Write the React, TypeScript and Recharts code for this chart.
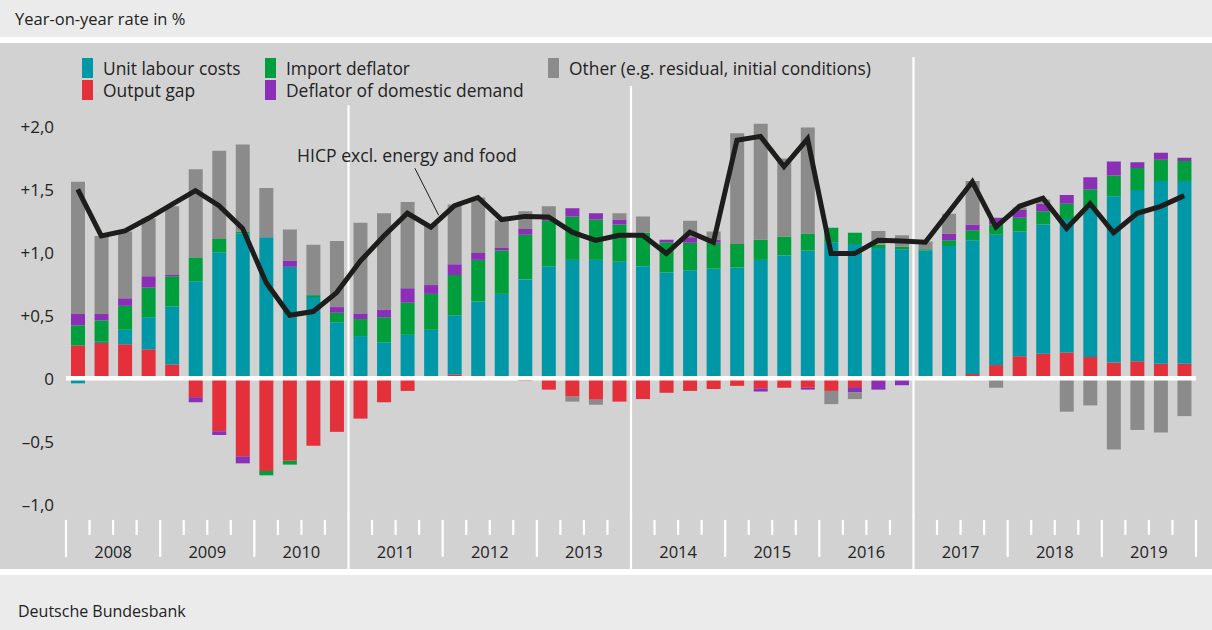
import React from 'react';
import {
  ComposedChart, Bar, Line, XAxis, YAxis, CartesianGrid, ReferenceLine, ReferenceDot, Label, Legend,
} from 'recharts';

const years = ['2008', '2009', '2010', '2011', '2012', '2013', '2014', '2015', '2016', '2017', '2018', '2019'];
const quarters = years.flatMap((y) => ['Q1', 'Q2', 'Q3', 'Q4'].map((q) => `${y}${q}`));

const outputGap = [
  0.26, 0.28, 0.27, 0.23, 0.11, -0.15, -0.42, -0.62, -0.735, -0.655, -0.535, -0.425,
  -0.32, -0.19, -0.10, 0, 0.03, 0, 0, -0.02, -0.09, -0.145, -0.17, -0.185,
  -0.165, -0.115, -0.10, -0.085, -0.06, -0.08, -0.075, -0.075, -0.10, -0.07, -0.02, 0,
  0, 0, 0.035, 0.105, 0.175, 0.195, 0.205, 0.17, 0.125, 0.135, 0.115, 0.115,
];
const unitLabourCosts = [
  -0.04, 0.01, 0.115, 0.255, 0.46, 0.77, 1.0, 1.15, 1.12, 0.885, 0.645, 0.445,
  0.335, 0.285, 0.345, 0.385, 0.47, 0.61, 0.67, 0.785, 0.89, 0.94, 0.94, 0.925,
  0.89, 0.84, 0.855, 0.87, 0.88, 0.94, 0.975, 1.015, 1.08, 1.065, 1.035, 1.025,
  1.015, 1.05, 1.06, 1.035, 0.99, 1.025, 1.06, 1.19, 1.32, 1.36, 1.45, 1.45,
];
const importDeflator = [
  0.16, 0.17, 0.19, 0.235, 0.24, 0.19, 0.105, 0.015, -0.035, -0.03, 0.015, 0.075,
  0.135, 0.20, 0.255, 0.285, 0.32, 0.33, 0.345, 0.355, 0.36, 0.345, 0.32, 0.295,
  0.265, 0.24, 0.22, 0.205, 0.185, 0.16, 0.15, 0.135, 0.115, 0.09, 0.025, 0.02,
  0.01, 0.045, 0.08, 0.08, 0.11, 0.105, 0.12, 0.14, 0.165, 0.175, 0.17, 0.16,
];
const domesticDeflator = [
  0.09, 0.05, 0.06, 0.09, 0.01, -0.04, -0.03, -0.055, 0, 0.05, 0, 0.045,
  0.045, 0.06, 0.115, 0.07, 0.085, 0.055, 0.02, 0.045, 0.02, 0.065, 0.05, 0.04,
  0, 0.02, 0.045, 0.025, 0, -0.025, 0, -0.015, 0, -0.04, -0.07, -0.055,
  0, 0.055, 0.045, 0.055, 0.06, 0.06, 0.07, 0.095, 0.11, 0.045, 0.055, 0.025,
];
const otherFactors = [
  1.05, 0.62, 0.53, 0.46, 0.545, 0.70, 0.70, 0.69, 0.39, 0.245, 0.40, 0.525,
  0.72, 0.765, 0.685, 0.48, 0.475, 0.44, 0.22, 0.14, 0.095, -0.04, -0.04, 0.05,
  0.13, 0, 0.13, 0.065, 0.88, 0.92, 0.62, 0.84, -0.105, -0.055, 0.11, 0.09,
  0.06, 0.155, 0.345, -0.075, 0.02, 0.035, -0.265, -0.215, -0.565, -0.41, -0.43, -0.30,
];
const hicpCore = [
  1.50, 1.13, 1.17, 1.27, 1.38, 1.49, 1.37, 1.19, 0.76, 0.50, 0.53, 0.68,
  0.93, 1.13, 1.31, 1.20, 1.37, 1.435, 1.26, 1.285, 1.28, 1.16, 1.095, 1.135,
  1.135, 0.99, 1.16, 1.08, 1.89, 1.92, 1.68, 1.90, 0.99, 0.99, 1.095, 1.09,
  1.08, 1.32, 1.56, 1.20, 1.365, 1.43, 1.19, 1.385, 1.155, 1.31, 1.365, 1.45,
];

const yTicks = [-1, -0.5, 0, 0.5, 1, 1.5, 2];
const quarterTicks = Array.from({ length: quarters.length + 1 }, (_, i) => i);
const separatorTicks = [12, 24, 36];
const separatorTops = [2.167, 2.32, 2.55];

const C = {
  teal: '#0098a7',
  red: '#e4303a',
  green: '#009e3d',
  purple: '#8a2fb6',
  grey: '#8b8b8b',
  line: '#1d1d1b',
  panel: '#d2d2d2',
  band: '#ebebeb',
  text: '#222222',
};

const legendItems = [
  { name: 'Unit labour costs', color: C.teal, x: 82, row: 0 },
  { name: 'Output gap', color: C.red, x: 82, row: 1 },
  { name: 'Import deflator', color: C.green, x: 265, row: 0 },
  { name: 'Deflator of domestic demand', color: C.purple, x: 265, row: 1 },
  { name: 'Other (e.g. residual, initial conditions)', color: C.grey, x: 548, row: 0 },
];

const data = quarters.map((q, i) => ({
  q,
  pos: i + 0.5,
  gap: outputGap[i],
  ulc: unitLabourCosts[i],
  imp: importDeflator[i],
  dom: domesticDeflator[i],
  oth: otherFactors[i],
  hicp: hicpCore[i],
}));

const fmtY = (v: number) => {
  if (v === 0) return '0';
  const s = Math.abs(v).toFixed(1).replace('.', ',');
  return v > 0 ? `+${s}` : `\u2013${s}`;
};

const YTick = (props: any) => {
  const { x, y, payload } = props;
  return (
    <text x={x} y={y} textAnchor="end" dominantBaseline="central" fontSize={17} fill={C.text}>
      {fmtY(payload.value)}
    </text>
  );
};

const QuarterTick = (props: any) => {
  const { x, y, payload } = props;
  const v = payload.value as number;
  const isSep = separatorTicks.includes(v);
  const isYear = v % 4 === 0;
  const label = v % 4 === 2 ? years[(v - 2) / 4] : null;
  return (
    <g>
      <line
        x1={x}
        x2={x}
        y1={isSep ? y - 2 : y + 3}
        y2={isSep ? y + 54 : isYear ? y + 40 : y + 18}
        stroke="#ffffff"
        strokeWidth={2.2}
      />
      {label && (
        <text x={x} y={y + 35} textAnchor="middle" dominantBaseline="central" fontSize={16.5} fill={C.text}>
          {label}
        </text>
      )}
    </g>
  );
};

const LegendContent = () => (
  <div style={{ position: 'relative', width: 1212, height: 80 }}>
    {legendItems.map((it) => (
      <React.Fragment key={it.name}>
        <div
          style={{
            position: 'absolute',
            left: it.x,
            top: 15 + it.row * 22,
            width: 11,
            height: 20,
            background: it.color,
          }}
        />
        <div
          style={{
            position: 'absolute',
            left: it.x + 21,
            top: 14 + it.row * 22,
            lineHeight: '22px',
            fontSize: 17.4,
            color: C.text,
            whiteSpace: 'nowrap',
          }}
        >
          {it.name}
        </div>
      </React.Fragment>
    ))}
  </div>
);

const gridGen = (props: any) => {
  const ax = props && props.yAxis;
  if (ax && typeof ax.scale === 'function') return yTicks.map((t) => ax.scale(t));
  return [];
};

export default function App() {
  return (
    <div
      style={{
        position: 'absolute',
        left: 0,
        top: 0,
        width: 1212,
        height: 630,
        background: '#ffffff',
        fontFamily: '"Open Sans", "Noto Sans", sans-serif',
        overflow: 'hidden',
      }}
    >
      <div style={{ position: 'absolute', left: 0, top: 0, width: 1212, height: 37, background: C.band }}>
        <div style={{ position: 'absolute', left: 15, top: 8, lineHeight: '22px', fontSize: 16.5, color: C.text }}>
          Year-on-year rate in %
        </div>
      </div>
      <div style={{ position: 'absolute', left: 0, top: 43, width: 1212, height: 526, background: C.panel }}>
        <ComposedChart
          width={1212}
          height={526}
          data={data}
          stackOffset="sign"
          margin={{ top: 7.7, right: 16, bottom: 0, left: 0 }}
        >
          <CartesianGrid
            vertical={false}
            stroke="#ffffff"
            strokeWidth={3.5}
            horizontalCoordinatesGenerator={gridGen}
          />
          <XAxis dataKey="q" hide height={0} />
          <XAxis
            xAxisId="num"
            type="number"
            dataKey="pos"
            domain={[0, quarters.length]}
            ticks={quarterTicks}
            interval={0}
            allowDataOverflow
            axisLine={false}
            tickLine={false}
            tickSize={0}
            tickMargin={0}
            height={52.1}
            tick={<QuarterTick />}
          />
          <YAxis
            domain={[-1.1, 2.6]}
            ticks={yTicks}
            allowDataOverflow
            axisLine={false}
            tickLine={false}
            tickSize={0}
            tickMargin={12}
            width={66}
            tick={<YTick />}
          />
          <Legend
            layout="horizontal"
            verticalAlign="middle"
            align="center"
            content={<LegendContent />}
            wrapperStyle={{ top: 0, left: 0, width: 1212, height: 80 }}
          />
          <Bar dataKey="gap" name="Output gap" stackId="a" fill={C.red} barSize={14} isAnimationActive={false} />
          <Bar dataKey="ulc" name="Unit labour costs" stackId="a" fill={C.teal} barSize={14} isAnimationActive={false} />
          <Bar dataKey="imp" name="Import deflator" stackId="a" fill={C.green} barSize={14} isAnimationActive={false} />
          <Bar dataKey="dom" name="Deflator of domestic demand" stackId="a" fill={C.purple} barSize={14} isAnimationActive={false} />
          <Bar dataKey="oth" name="Other (e.g. residual, initial conditions)" stackId="a" fill={C.grey} barSize={14} isAnimationActive={false} />
          <ReferenceLine y={0} stroke="#ffffff" strokeWidth={4.5} />
          {separatorTicks.map((t, i) => (
            <ReferenceLine
              key={t}
              xAxisId="num"
              segment={[{ x: t, y: -1.1 }, { x: t, y: separatorTops[i] }]}
              stroke="#ffffff"
              strokeWidth={2.2}
            />
          ))}
          <ReferenceLine
            xAxisId="num"
            segment={[{ x: 14.82, y: 1.667 }, { x: 15.83, y: 1.294 }]}
            stroke={C.line}
            strokeWidth={1}
          />
          <ReferenceDot xAxisId="num" x={14.48} y={1.77} r={0} fill="none" stroke="none">
            <Label value="HICP excl. energy and food" position="center" fontSize={17.6} fill={C.text} />
          </ReferenceDot>
          <Line
            dataKey="hicp"
            name="HICP excl. energy and food"
            type="linear"
            stroke={C.line}
            strokeWidth={5}
            dot={false}
            legendType="none"
            strokeLinejoin="miter"
            isAnimationActive={false}
          />
        </ComposedChart>
      </div>
      <div style={{ position: 'absolute', left: 0, top: 575, width: 1212, height: 55, background: C.band }}>
        <div style={{ position: 'absolute', left: 18, top: 25, lineHeight: '22px', fontSize: 16, color: C.text }}>
          Deutsche Bundesbank
        </div>
      </div>
    </div>
  );
}
